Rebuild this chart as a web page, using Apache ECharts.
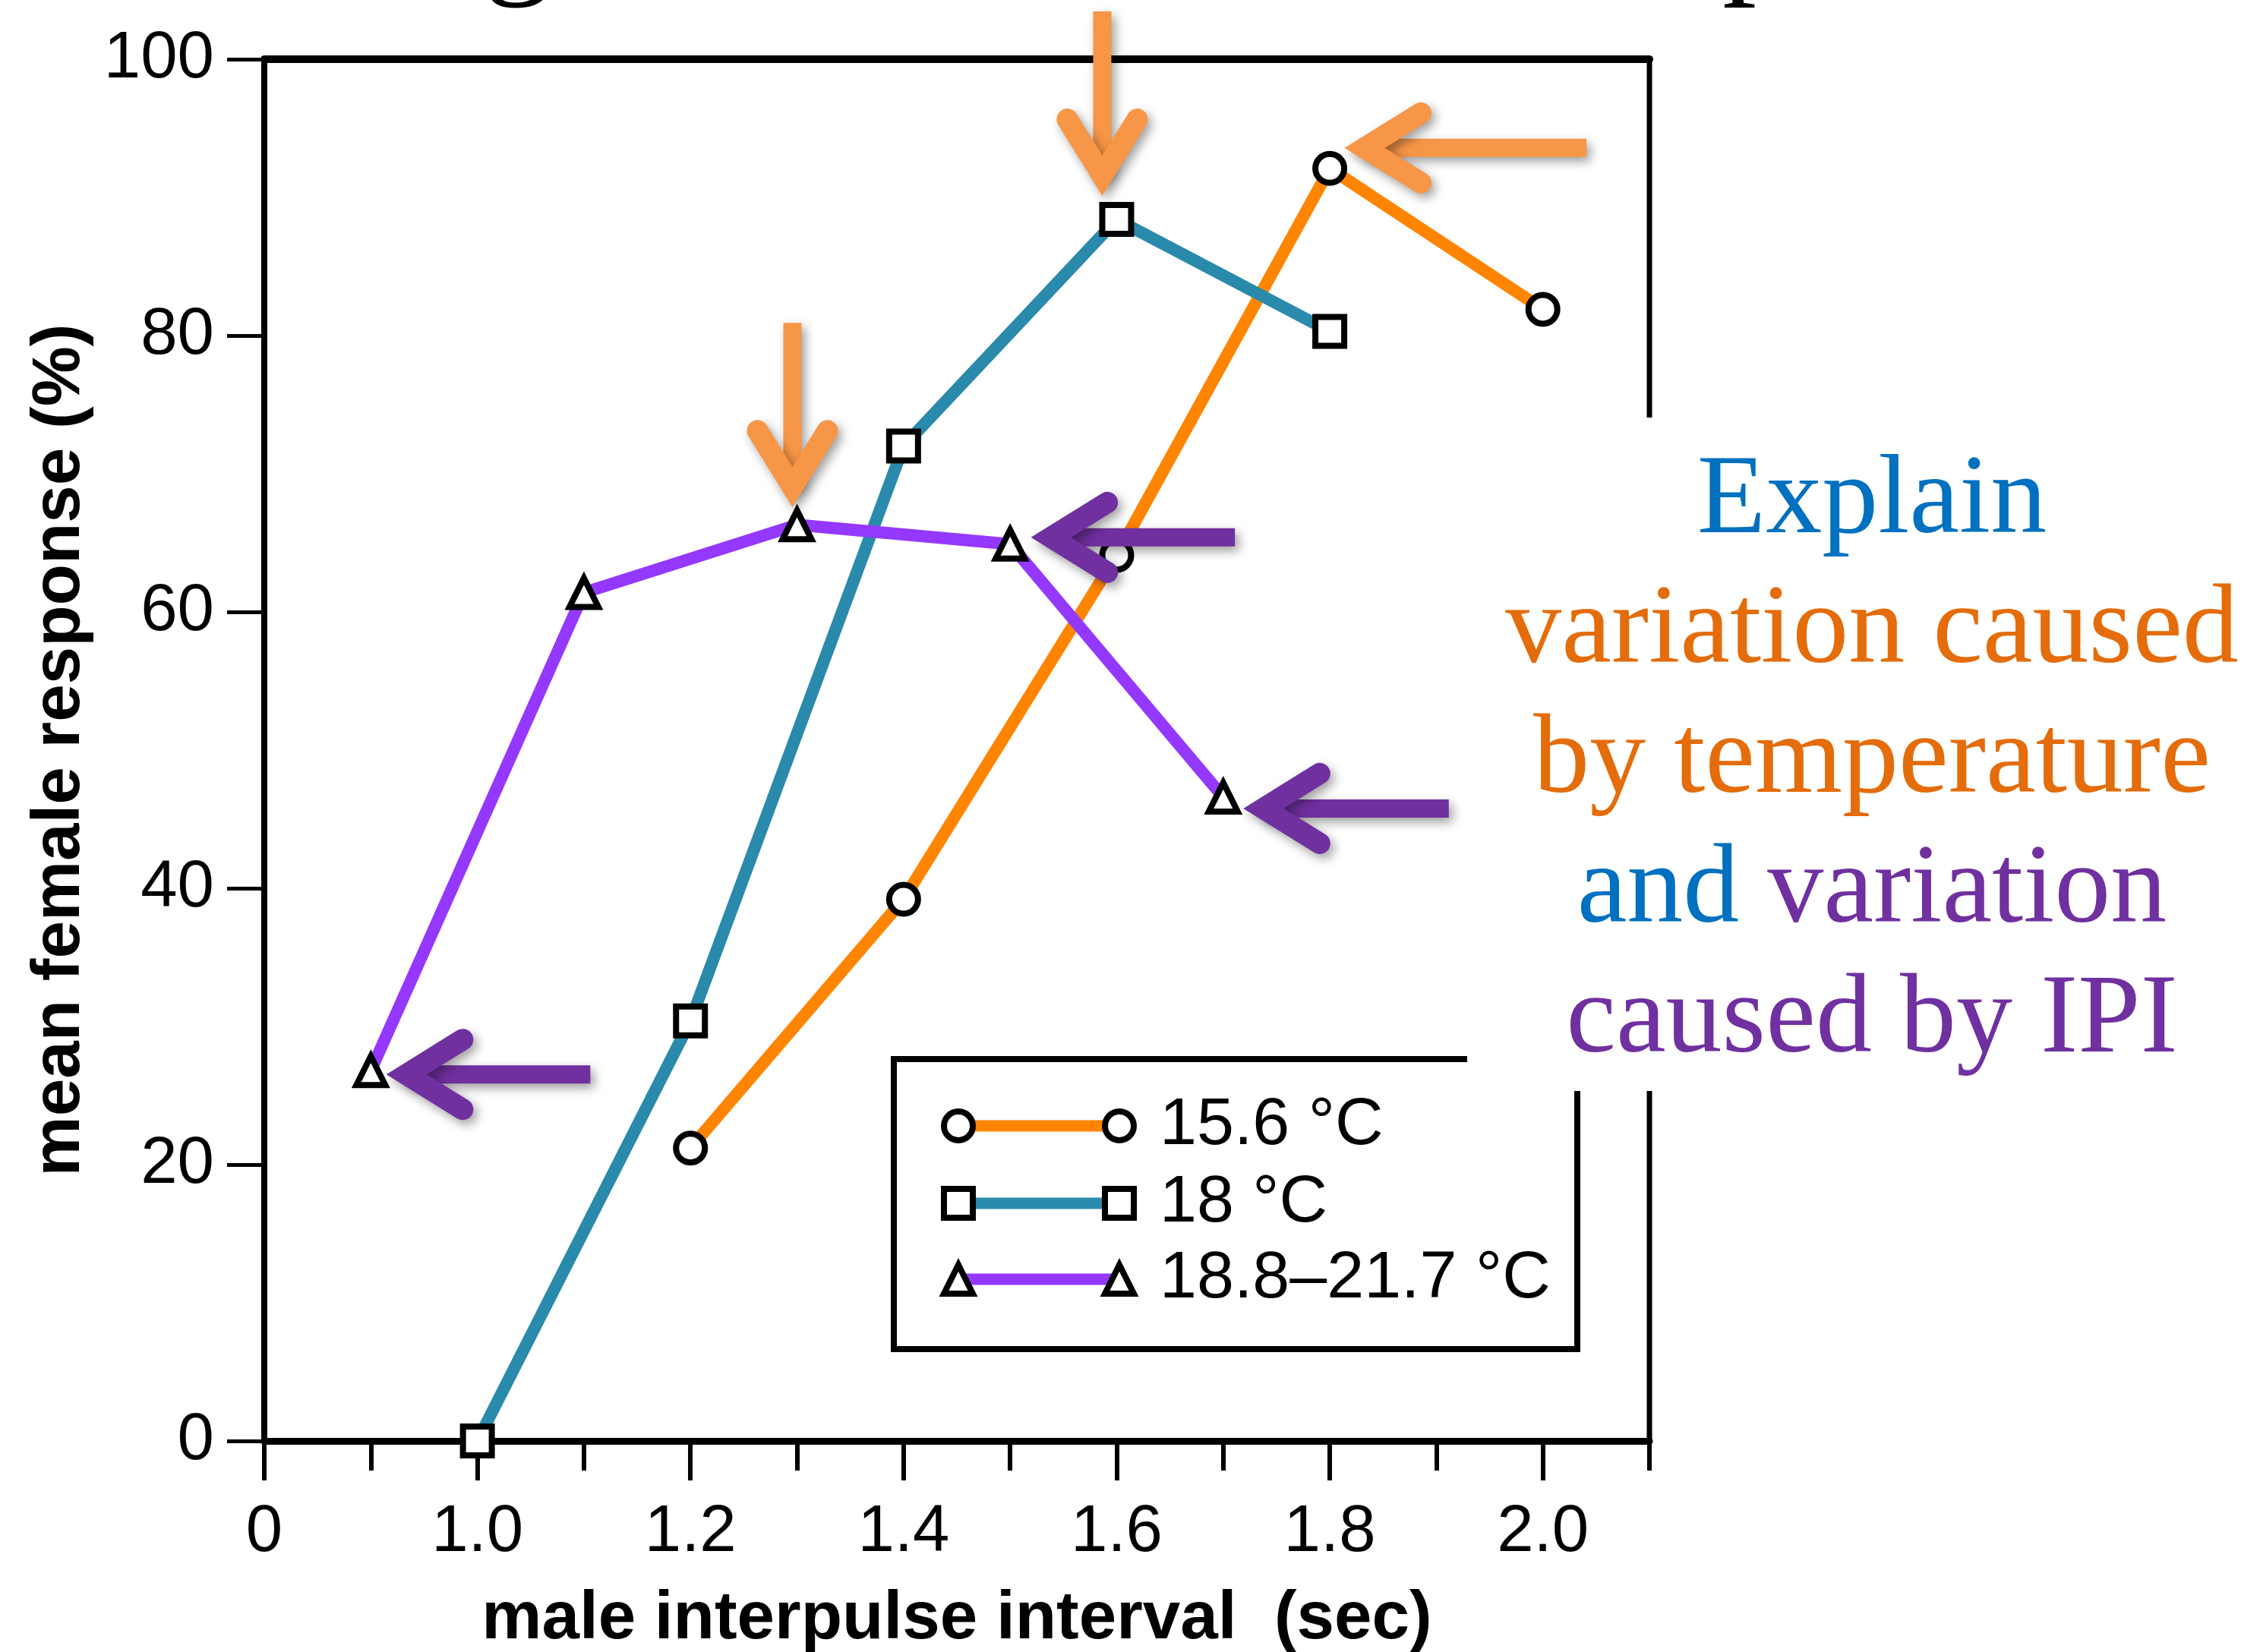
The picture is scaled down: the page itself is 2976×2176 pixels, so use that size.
<!DOCTYPE html>
<html>
<head>
<meta charset="utf-8">
<title>mean female response vs male interpulse interval</title>
<script src="https://cdn.jsdelivr.net/npm/echarts@6/dist/echarts.min.js"></script>
<style>
  html, body { margin: 0; padding: 0; background: #fff; }
  #chart { width: 2976px; height: 2176px; }
</style>
</head>
<body>
<div id="chart"></div>
<script>
// male interpulse interval (sec) -> mean female response (%)
var ipi156 = [1.2, 1.4, 1.6, 1.8, 2.0]
var resp156 = [21.2, 39.2, 64.1, 92.1, 81.9]
var ipi18 = [1.0, 1.2, 1.4, 1.6, 1.8]
var resp18 = [0, 30.4, 72.0, 88.4, 80.3]
var ipiWarm = [0.9, 1.1, 1.3, 1.5, 1.7]
var respWarm = [26.8, 61.4, 66.3, 64.9, 46.6]

var seriesNames = ['15.6 °C', '18 °C', '18.8–21.7 °C']
// axis is broken: the "0" label sits where 0.8 s would be
var xTickValues = [0.8, 1.0, 1.2, 1.4, 1.6, 1.8, 2.0]
var xTickLabels = ['0', '1.0', '1.2', '1.4', '1.6', '1.8', '2.0']

var SANS = 'Liberation Sans'
var SERIF = 'Liberation Serif'
var lineColors = ['#FF8400', '#2A8AAB', '#9438FF']
var symbols = ['circle', 'rect', 'triangle']

function zip (xs, ys) {
  var out = []
  for (var i = 0; i < xs.length; i++) out.push([xs[i], ys[i]])
  return out
}

function makeSeries (i, xs, ys) {
  return {
    name: seriesNames[i],
    type: 'line',
    xAxisIndex: 0,
    data: zip(xs, ys),
    symbol: symbols[i],
    symbolSize: 38,
    z: 3 + i,
    lineStyle: { color: lineColors[i], width: 16 },
    itemStyle: { color: '#fff', borderColor: '#000', borderWidth: 8 },
    emphasis: { disabled: true }
  }
}

var chart = echarts.init(document.getElementById('chart'))
chart.setOption({
  animation: false,
  backgroundColor: '#fff',
  grid: {
    left: 348, right: 804, top: 78, bottom: 278,
    outerBoundsMode: 'none',
    show: true, borderColor: '#000', borderWidth: 7, backgroundColor: '#fff'
  },
  xAxis: [
    {
      type: 'value', position: 'bottom', min: 0.8, max: 2.1, interval: 0.1,
      axisLine: { lineStyle: { color: '#000', width: 9 } },
      axisTick: { length: 39, lineStyle: { color: '#000', width: 6 } },
      axisLabel: { show: false },
      splitLine: { show: false },
      name: 'male interpulse interval  (sec)',
      nameLocation: 'middle',
      nameGap: 191,
      nameTextStyle: { fontFamily: SANS, fontWeight: 'bold', fontSize: 89, color: '#000' }
    },
    {
      type: 'value', position: 'bottom', min: 0.8, max: 2.1, interval: 0.2,
      axisLine: { show: false },
      axisTick: { length: 52, customValues: xTickValues, lineStyle: { color: '#000', width: 6 } },
      axisLabel: {
        customValues: xTickValues,
        margin: 78,
        fontFamily: SANS, fontSize: 87, color: '#000',
        formatter: function (v) {
          for (var i = 0; i < xTickValues.length; i++) {
            if (Math.abs(v - xTickValues[i]) < 1e-6) return xTickLabels[i]
          }
          return ''
        }
      },
      splitLine: { show: false }
    },
    {
      // heavier top edge of the frame
      type: 'value', position: 'top', min: 0.8, max: 2.1,
      axisLine: { lineStyle: { color: '#000', width: 10 } },
      axisTick: { show: false },
      axisLabel: { show: false },
      splitLine: { show: false }
    }
  ],
  yAxis: {
    type: 'value', min: 0, max: 100, interval: 20,
    axisLine: { show: true, lineStyle: { color: '#000', width: 8 } },
    axisTick: { show: true, length: 49, lineStyle: { color: '#000', width: 5 } },
    axisLabel: { margin: 66, fontFamily: SANS, fontSize: 87, color: '#000' },
    splitLine: { show: false },
    name: 'mean female response (%)',
    nameLocation: 'middle',
    nameGap: 224,
    nameRotate: 90,
    nameTextStyle: { fontFamily: SANS, fontWeight: 'bold', fontSize: 89, color: '#000' }
  },
  series: [
    makeSeries(0, ipi156, resp156),
    makeSeries(1, ipi18, resp18),
    makeSeries(2, ipiWarm, respWarm)
  ]
})

// ---- legend box (symbol - line - symbol) ----
function legendSymbol (kind, cx, cy) {
  var st = { fill: '#fff', stroke: '#000', lineWidth: 8 }
  if (kind === 'circle') return { type: 'circle', shape: { cx: cx, cy: cy, r: 19 }, style: st }
  if (kind === 'rect') return { type: 'rect', shape: { x: cx - 19, y: cy - 19, width: 38, height: 38 }, style: st }
  return { type: 'polygon', shape: { points: [[cx, cy - 19], [cx + 19, cy + 19], [cx - 19, cy + 19]] }, style: st }
}

var legendKids = [{
  type: 'rect', shape: { x: 1177, y: 1395, width: 900, height: 382 },
  style: { fill: '#fff', stroke: '#000', lineWidth: 8 }
}]
var rowY = [1483, 1585, 1685]
for (var r = 0; r < seriesNames.length; r++) {
  legendKids.push({ type: 'line', shape: { x1: 1262, y1: rowY[r], x2: 1474, y2: rowY[r] },
    style: { stroke: lineColors[r], lineWidth: 15 } })
  legendKids.push(legendSymbol(symbols[r], 1262, rowY[r]))
  legendKids.push(legendSymbol(symbols[r], 1474, rowY[r]))
  legendKids.push({ type: 'text', x: 1527, y: rowY[r],
    style: { text: seriesNames[r], fontFamily: SANS, fontSize: 88, fill: '#000', verticalAlign: 'middle', align: 'left' } })
}

// ---- block arrows pointing at data points ----
var ORANGE_ARROW = '#F79646'
var PURPLE_ARROW = '#7030A0'
var arrowDefs = [
  { color: ORANGE_ARROW, at: [ipi18[3], resp18[3]], dir: [0, 1], dx: -19, dy: -32, len: 242 },
  { color: ORANGE_ARROW, at: [ipiWarm[2], respWarm[2]], dir: [0, 1], dx: -6, dy: -24, len: 242 },
  { color: ORANGE_ARROW, at: [ipi156[3], resp156[3]], dir: [-1, 0], dx: 20, dy: -27, len: 318 },
  { color: PURPLE_ARROW, at: [ipiWarm[3], respWarm[3]], dir: [-1, 0], dx: 28, dy: -9, len: 268 },
  { color: PURPLE_ARROW, at: [ipiWarm[4], respWarm[4]], dir: [-1, 0], dx: 27, dy: 15, len: 270 },
  { color: PURPLE_ARROW, at: [ipiWarm[0], respWarm[0]], dir: [-1, 0], dx: 21, dy: 5, len: 268 }
]

var shadow = { shadowBlur: 14, shadowOffsetX: 5, shadowOffsetY: 6, shadowColor: 'rgba(0,0,0,0.38)' }

function arrowGroup (a) {
  var p = chart.convertToPixel({ xAxisIndex: 0, yAxisIndex: 0 }, a.at)
  var dx = a.dir[0], dy = a.dir[1]
  var nx = -dy, ny = dx
  var tx = p[0] + a.dx, ty = p[1] + a.dy
  var vx = tx - 26 * dx, vy = ty - 26 * dy
  var ex = tx - 100 * dx, ey = ty - 100 * dy
  var shaftStyle = Object.assign({ stroke: a.color, lineWidth: 24, lineCap: 'butt', fill: null }, shadow)
  var headStyle = Object.assign({ stroke: a.color, lineWidth: 28, lineCap: 'round', lineJoin: 'miter', miterLimit: 10, fill: null }, shadow)
  return {
    type: 'group', z: 50,
    children: [
      { type: 'polyline', z: 50, shape: { points: [[tx - a.len * dx, ty - a.len * dy], [vx, vy]] }, style: shaftStyle },
      { type: 'polyline', z: 51, shape: { points: [[ex + 46 * nx, ey + 46 * ny], [vx, vy], [ex - 46 * nx, ey - 46 * ny]] }, style: headStyle }
    ]
  }
}

var graphics = [
  { type: 'group', z: 20, children: legendKids },
  // white panel behind the explanation text (covers the frame corner)
  { type: 'rect', z: 30, shape: { x: 1932, y: 550, width: 1044, height: 887 }, style: { fill: '#fff' } },
  {
    type: 'text', z: 31, x: 2465, y: 577,
    style: {
      text: '{b|Explain}\n{o|variation caused}\n{o|by temperature}\n{b|and} {p|variation}\n{p|caused by IPI}',
      align: 'center', verticalAlign: 'top',
      fontFamily: SERIF, fontSize: 148, lineHeight: 171,
      rich: {
        b: { fill: '#0070C0', fontFamily: SERIF, fontSize: 148, lineHeight: 171 },
        o: { fill: '#E46C0A', fontFamily: SERIF, fontSize: 148, lineHeight: 171 },
        p: { fill: '#7030A0', fontFamily: SERIF, fontSize: 148, lineHeight: 171 }
      }
    }
  },
  // bottoms of the slide title letters, cut off at the top edge
  { type: 'text', z: 31, x: 637, y: -75, style: { text: 'g', fontFamily: SERIF, fontSize: 180, fill: '#000', verticalAlign: 'middle', align: 'left' } },
  { type: 'text', z: 31, x: 2268, y: -75, style: { text: 'p', fontFamily: SERIF, fontSize: 180, fill: '#000', verticalAlign: 'middle', align: 'left' } }
]
for (var k = 0; k < arrowDefs.length; k++) graphics.push(arrowGroup(arrowDefs[k]))

chart.setOption({ graphic: graphics })
</script>
</body>
</html>
